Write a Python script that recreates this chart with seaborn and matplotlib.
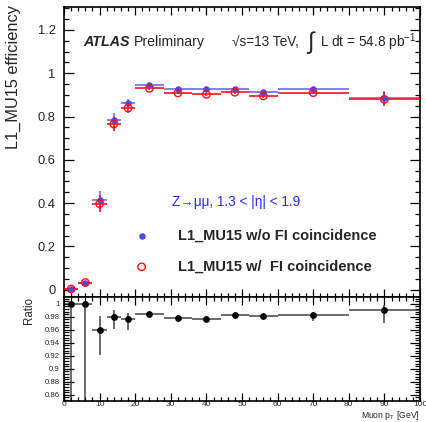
import numpy as np
import pandas as pd
import matplotlib
matplotlib.use("Agg")
import matplotlib.pyplot as plt
import seaborn as sns
from matplotlib.ticker import MultipleLocator

# ---------------- data ----------------
bin_lo = [0, 4, 8, 12, 16, 20, 28, 36, 44, 52, 60, 80]
bin_hi = [4, 8, 12, 16, 20, 28, 36, 44, 52, 60, 80, 100]
pt_center = [2, 6, 10, 14, 18, 24, 32, 40, 48, 56, 70, 90]
eff_noFI = [0.003, 0.033, 0.414, 0.782, 0.861, 0.945, 0.929, 0.926, 0.928, 0.915, 0.928, 0.886]
eff_noFI_err = [0.003, 0.005, 0.040, 0.032, 0.022, 0.006, 0.005, 0.005, 0.006, 0.008, 0.006, 0.030]
eff_FI = [0.003, 0.033, 0.397, 0.765, 0.839, 0.930, 0.909, 0.902, 0.912, 0.895, 0.910, 0.879]
eff_FI_err = [0.003, 0.005, 0.040, 0.034, 0.024, 0.006, 0.005, 0.005, 0.006, 0.008, 0.006, 0.032]
ratio = [1.000, 1.000, 0.960, 0.980, 0.976, 0.985, 0.978, 0.976, 0.983, 0.982, 0.983, 0.991]
ratio_err_lo = [0.200, 0.200, 0.039, 0.019, 0.016, 0.003, 0.002, 0.002, 0.002, 0.003, 0.009, 0.021]
ratio_err_hi = [0.000, 0.000, 0.022, 0.011, 0.010, 0.003, 0.002, 0.002, 0.002, 0.003, 0.005, 0.007]

x_ticks = [0, 10, 20, 30, 40, 50, 60, 70, 80, 90, 100]
eff_ticks = [0, 0.2, 0.4, 0.6, 0.8, 1.0, 1.2]
ratio_ticks = [0.86, 0.88, 0.90, 0.92, 0.94, 0.96, 0.98, 1.0]

label_noFI = "L1_MU15 w/o FI coincidence"
label_FI = "L1_MU15 w/  FI coincidence"

df = pd.DataFrame({"pt": pt_center, "lo": bin_lo, "hi": bin_hi,
                   "noFI": eff_noFI, "noFI_err": eff_noFI_err,
                   "FI": eff_FI, "FI_err": eff_FI_err,
                   "ratio": ratio, "r_lo": ratio_err_lo, "r_hi": ratio_err_hi})
df["xerr_lo"] = df["pt"] - df["lo"]
df["xerr_hi"] = df["hi"] - df["pt"]

# ---------------- style ----------------
sns.set_theme(style="ticks")
plt.rcParams["font.family"] = ["Liberation Sans", "DejaVu Sans"]
plt.rcParams["mathtext.fontset"] = "custom"
plt.rcParams["mathtext.rm"] = "Liberation Sans"
plt.rcParams["mathtext.it"] = "Liberation Sans:italic"

BLUE = "#4a4ae8"
RED = "#ff1010"

fig = plt.figure(figsize=(4.27, 4.22), dpi=100)
ax = fig.add_axes([64/427, 1-297/422, 356/427, 290/422])
axr = fig.add_axes([64/427, 1-401/422, 356/427, 104/422], sharex=ax)

# ---------------- main panel ----------------
ax.errorbar(df["pt"], df["noFI"], yerr=df["noFI_err"],
            xerr=[df["xerr_lo"], df["xerr_hi"]], fmt="none",
            ecolor=BLUE, elinewidth=1.3, alpha=0.75, capsize=0, zorder=2)
ax.errorbar(df["pt"], df["FI"], yerr=df["FI_err"],
            xerr=[df["xerr_lo"], df["xerr_hi"]], fmt="none",
            ecolor=RED, elinewidth=1.3, alpha=0.9, capsize=0, zorder=3)
sns.scatterplot(data=df, x="pt", y="noFI", ax=ax, color=BLUE, s=22,
                edgecolor=BLUE, linewidth=0, zorder=4, legend=False)
sns.scatterplot(data=df, x="pt", y="FI", ax=ax, facecolor="none", s=28,
                edgecolor=RED, linewidth=1.0, zorder=5, legend=False)

ax.set_xlim(0, 100)
ax.set_ylim(-0.034, 1.306)
ax.set_yticks(eff_ticks)
ax.set_yticklabels(["0", "0.2", "0.4", "0.6", "0.8", "1", "1.2"])
ax.yaxis.set_minor_locator(MultipleLocator(0.05))
ax.xaxis.set_minor_locator(MultipleLocator(2))
ax.set_xticks(x_ticks)
ax.tick_params(axis="x", labelbottom=False)
ax.set_xlabel("")
ax.set_ylabel("")

# ---------------- ratio panel ----------------
axr.errorbar(df["pt"], df["ratio"], yerr=[df["r_lo"], df["r_hi"]],
             xerr=[df["xerr_lo"], df["xerr_hi"]], fmt="none",
             ecolor="#222222", elinewidth=1.1, alpha=0.85, capsize=0, zorder=2)
sns.scatterplot(data=df, x="pt", y="ratio", ax=axr, color="black", s=24,
                linewidth=0, zorder=4, legend=False)
axr.set_ylim(0.8505, 1.0106)
axr.set_yticks(ratio_ticks)
axr.set_yticklabels(["0.86", "0.88", "0.9", "0.92", "0.94", "0.96", "0.98", "1"])
axr.yaxis.set_minor_locator(MultipleLocator(0.004))
axr.set_xticks(x_ticks)
axr.set_xticklabels([str(v) for v in x_ticks])
axr.set_xlabel("")
axr.set_ylabel("")

for a in (ax, axr):
    for sp in a.spines.values():
        sp.set_visible(True)
        sp.set_linewidth(1.2)
        sp.set_color("black")
    a.tick_params(which="both", direction="in", top=True, right=True,
                  color="black", width=0.9)
    a.set_facecolor("white")

ax.tick_params(axis="y", which="major", length=7, labelsize=9.3, pad=6)
ax.tick_params(axis="y", which="minor", length=3.5)
ax.tick_params(axis="x", which="major", length=6)
ax.tick_params(axis="x", which="minor", length=3)
axr.tick_params(axis="y", which="major", length=7, labelsize=5.6, pad=3)
axr.tick_params(axis="y", which="minor", length=3.5)
axr.tick_params(axis="x", which="major", length=6, labelsize=6.0, pad=0.3)
axr.tick_params(axis="x", which="minor", length=3)

# ---------------- texts ----------------
ax.text(0.053, 0.879, "ATLAS", transform=ax.transAxes, fontsize=10.3,
        fontweight="bold", fontstyle="italic", va="center", ha="left")
ax.text(0.195, 0.879, "Preliminary", transform=ax.transAxes, fontsize=10.2,
        va="center", ha="left")
ax.text(0.472, 0.879, "\u221As=13 TeV,", transform=ax.transAxes,
        fontsize=9.8, va="center", ha="left")
ax.text(0.680, 0.879, "$\\int$", transform=ax.transAxes,
        fontsize=17, va="center", ha="left")
ax.text(0.719, 0.879, "L dt = 54.8 pb$^{-1}$", transform=ax.transAxes,
        fontsize=9.8, va="center", ha="left")
ax.text(0.303, 0.328, "Z\u2192\u03bc\u03bc, 1.3 < |\u03b7| < 1.9",
        transform=ax.transAxes, fontsize=9.8, color="#2a2aff",
        va="center", ha="left")

ax.scatter([0.218], [0.210], transform=ax.transAxes, s=22, color=BLUE,
           linewidth=0, zorder=6, clip_on=False)
ax.scatter([0.218], [0.104], transform=ax.transAxes, s=28, facecolor="none",
           edgecolor=RED, linewidth=1.0, zorder=6, clip_on=False)
ax.text(0.320, 0.210, label_noFI, transform=ax.transAxes, fontsize=10.5,
        fontweight="bold", va="center", ha="left")
ax.text(0.320, 0.104, label_FI, transform=ax.transAxes, fontsize=10.5,
        fontweight="bold", va="center", ha="left")

fig.text(13/427, 1-5/422, "L1_MU15 efficiency", rotation=90,
         fontsize=11.8, ha="center", va="top")
fig.text(29/427, 1-297/422, "Ratio", rotation=90,
         fontsize=8.3, ha="center", va="top")
fig.text(420/427, 1-421.8/422, "Muon p$_{\\rm T}$ [GeV]",
         fontsize=6.2, ha="right", va="bottom")

fig.savefig("out.png", dpi=100, facecolor="white")
